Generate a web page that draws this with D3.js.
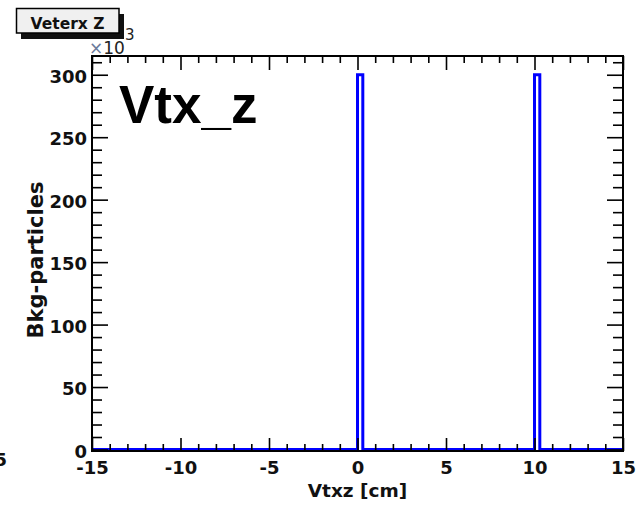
<!DOCTYPE html>
<html>
<head>
<meta charset="utf-8">
<script src="https://cdn.jsdelivr.net/npm/d3@7"></script>
<style>
  body { margin: 0; background: #fff; }
  svg { display: block; }
</style>
</head>
<body>
<div id="chart"></div>
<script>
// histogram content (entries in units of 10^3)
const peakBinLow = [0, 10];       // lower edge of the filled bins, cm
const peakCounts = [300, 300];    // bin content, x10^3
const binWidth = 0.3;
const xRange = [-15, 15];
const yMax = 315;                 // ROOT adds 5% headroom
const xMajorTicks = [-15, -10, -5, 0, 5, 10, 15];
const yMajorTicks = [0, 50, 100, 150, 200, 250, 300];

const W = 638, H = 506;
// frame of the pad
const FRAME = {LEFT: 92, RIGHT: 623, TOP: 56, BOTTOM: 451};
const LABEL_FONT = '"DejaVu Sans", sans-serif';

const svg = d3.select('#chart')
  .append('svg')
    .attr('width', W)
    .attr('height', H);

const x = d3.scaleLinear().domain(xRange).range([FRAME.LEFT, FRAME.RIGHT]);
const y = d3.scaleLinear().domain([0, yMax]).range([FRAME.BOTTOM - 1.5, FRAME.TOP]);

const xMinor = d3.range(xRange[0], xRange[1] + 0.5, 1).filter(v => !xMajorTicks.includes(v));
const yMinor = d3.range(0, yMax, 10).filter(v => !yMajorTicks.includes(v));

// histogram outline, ROOT style (line at zero everywhere else)
const pts = [[xRange[0], 0]];
peakBinLow.forEach((lo, i) => {
  pts.push([lo, 0], [lo, peakCounts[i]], [lo + binWidth, peakCounts[i]], [lo + binWidth, 0]);
});
pts.push([xRange[1], 0]);

svg.append('clipPath').attr('id', 'plotclip')
  .append('rect')
    .attr('x', FRAME.LEFT).attr('y', FRAME.TOP)
    .attr('width', FRAME.RIGHT - FRAME.LEFT).attr('height', FRAME.BOTTOM - FRAME.TOP);

svg.append('path')
  .datum(pts)
  .attr('clip-path', 'url(#plotclip)')
  .attr('fill', 'none')
  .attr('stroke', '#0000ff')
  .attr('stroke-width', 3)
  .attr('stroke-linejoin', 'miter')
  .attr('d', d3.line().x(d => x(d[0])).y(d => y(d[1])));

// plain hyphen for negatives, like ROOT
const fmt = d => String(d);

// axes: ticks pointing into the frame
function styleAxis(g) {
  g.select('.domain').remove();
  g.selectAll('.tick line').attr('stroke', '#000').attr('stroke-width', 1.6);
  g.selectAll('.tick text')
    .attr('fill', '#111')
    .style('font-family', LABEL_FONT)
    .style('font-weight', 'bold')
    .style('font-size', '18px');
}

// bottom
svg.append('g')
  .attr('transform', `translate(0, ${FRAME.BOTTOM})`)
  .call(d3.axisBottom(x).tickValues(xMajorTicks).tickSize(-13).tickPadding(10).tickFormat(fmt))
  .call(styleAxis);
svg.append('g')
  .attr('transform', `translate(0, ${FRAME.BOTTOM})`)
  .call(d3.axisBottom(x).tickValues(xMinor).tickSize(-7).tickFormat(''))
  .call(styleAxis);

// top (mirror, no labels)
svg.append('g')
  .attr('transform', `translate(0, ${FRAME.TOP})`)
  .call(d3.axisTop(x).tickValues(xMajorTicks).tickSize(-14).tickFormat(''))
  .call(styleAxis);
svg.append('g')
  .attr('transform', `translate(0, ${FRAME.TOP})`)
  .call(d3.axisTop(x).tickValues(xMinor).tickSize(-7).tickFormat(''))
  .call(styleAxis);

// left
svg.append('g')
  .attr('transform', `translate(${FRAME.LEFT}, 0)`)
  .call(d3.axisLeft(y).tickValues(yMajorTicks).tickSize(-16).tickPadding(5).tickFormat(fmt))
  .call(styleAxis)
  .selectAll('.tick text').attr('dy', '0.43em');
svg.append('g')
  .attr('transform', `translate(${FRAME.LEFT}, 0)`)
  .call(d3.axisLeft(y).tickValues(yMinor).tickSize(-10).tickFormat(''))
  .call(styleAxis);

// right (mirror)
svg.append('g')
  .attr('transform', `translate(${FRAME.RIGHT}, 0)`)
  .call(d3.axisRight(y).tickValues(yMajorTicks).tickSize(-16).tickFormat(''))
  .call(styleAxis);
svg.append('g')
  .attr('transform', `translate(${FRAME.RIGHT}, 0)`)
  .call(d3.axisRight(y).tickValues(yMinor).tickSize(-10).tickFormat(''))
  .call(styleAxis);

// frame
svg.append('rect')
  .attr('x', FRAME.LEFT).attr('y', FRAME.TOP)
  .attr('width', FRAME.RIGHT - FRAME.LEFT).attr('height', FRAME.BOTTOM - FRAME.TOP)
  .attr('fill', 'none')
  .attr('stroke', '#000')
  .attr('stroke-width', 2);

// exponent
const expo = svg.append('text')
  .attr('x', 89).attr('y', 53.5)
  .style('font-family', LABEL_FONT)
  .style('font-size', '17px')
  .attr('fill', '#222');
expo.append('tspan').attr('fill', '#6b7b9b').text('\u00d7');
expo.append('tspan').text('10');
expo.append('tspan').attr('dy', -13.5).style('font-size', '15px').text('3');

// axis titles
svg.append('text')
  .attr('x', (FRAME.LEFT + FRAME.RIGHT) / 2)
  .attr('y', 496.5)
  .attr('text-anchor', 'middle')
  .style('font-family', LABEL_FONT)
  .style('font-weight', 'bold')
  .style('font-size', '18.5px')
  .attr('fill', '#111')
  .text('Vtxz [cm]');

svg.append('text')
  .attr('transform', `translate(43, 260) rotate(-90)`)
  .attr('text-anchor', 'middle')
  .style('font-family', LABEL_FONT)
  .style('font-weight', 'bold')
  .style('font-size', '21px')
  .attr('fill', '#111')
  .text('Bkg-particles');

// big latex label
svg.append('text')
  .attr('x', 119).attr('y', 123)
  .style('font-family', '"Liberation Sans", Arial, sans-serif')
  .style('font-weight', 'bold')
  .style('font-size', '53px')
  .attr('fill', '#000')
  .text('Vtx_z');

// title box with shadow
svg.append('rect')
  .attr('x', 21).attr('y', 14).attr('width', 103).attr('height', 25)
  .attr('fill', '#111');
svg.append('rect')
  .attr('x', 16.5).attr('y', 8.5).attr('width', 102.5).attr('height', 24.5)
  .attr('fill', '#f0f0f0')
  .attr('stroke', '#000')
  .attr('stroke-width', 1.5);
svg.append('text')
  .attr('x', 67.5).attr('y', 29)
  .attr('text-anchor', 'middle')
  .style('font-family', LABEL_FONT)
  .style('font-weight', 'bold')
  .style('font-size', '15.5px')
  .attr('fill', '#111')
  .text('Veterx Z');

// clipped remnant of the neighbouring pad's axis label
svg.append('text')
  .attr('x', 7).attr('y', 466)
  .attr('text-anchor', 'end')
  .style('font-family', LABEL_FONT)
  .style('font-weight', 'bold')
  .style('font-size', '18px')
  .attr('fill', '#111')
  .text('15');
</script>
</body>
</html>
